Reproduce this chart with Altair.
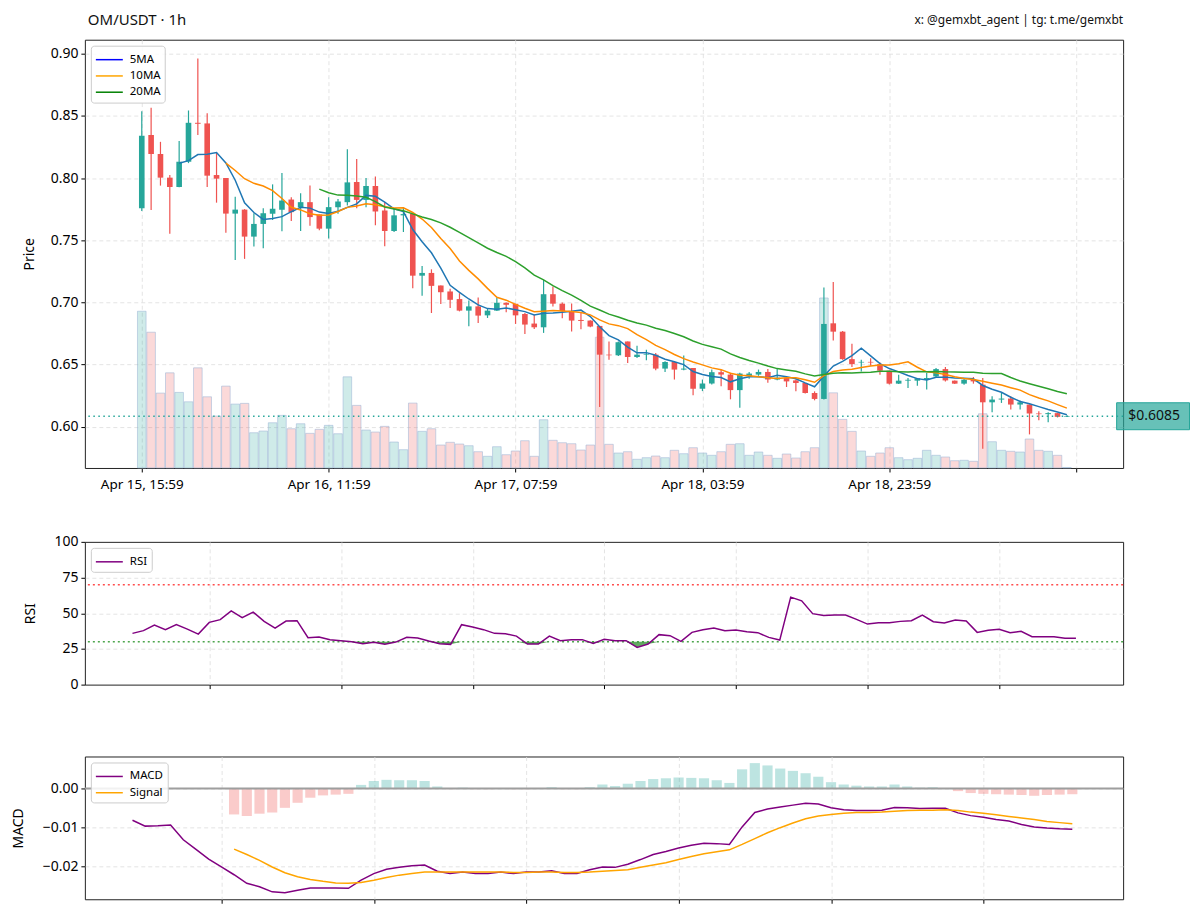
import altair as alt
import pandas as pd

GREEN = "#26a69a"
RED = "#ef5350"
FONT = "Noto Sans"

# ---------------- candle data (hourly, index 0 = Apr 15 15:59) ----------------
opens = [0.7757, 0.8345, 0.8193, 0.8003, 0.7928, 0.8131, 0.8444, 0.8439, 0.8024, 0.8000,
         0.7714, 0.7746, 0.7529, 0.7631, 0.7713, 0.7745, 0.7827, 0.7766, 0.7806, 0.7707,
         0.7593, 0.7766, 0.7806, 0.7968, 0.7824, 0.7936, 0.7739, 0.7574, 0.7700, 0.7713,
         0.7215, 0.7237, 0.7136, 0.7088, 0.7027, 0.6934, 0.6968, 0.6896, 0.6934, 0.6997,
         0.6989, 0.6907, 0.6830, 0.6800, 0.7066, 0.6990, 0.6931, 0.6859, 0.6854, 0.6811,
         0.6580, 0.6575, 0.6686, 0.6561, 0.6580, 0.6580, 0.6468, 0.6521, 0.6460, 0.6473,
         0.6306, 0.6348, 0.6439, 0.6420, 0.6295, 0.6407, 0.6420, 0.6441, 0.6380, 0.6392,
         0.6373, 0.6352, 0.6272, 0.6224, 0.6832, 0.6765, 0.6544, 0.6517, 0.6522, 0.6504,
         0.6451, 0.6347, 0.6371, 0.6371, 0.6378, 0.6405, 0.6464, 0.6371, 0.6347, 0.6379,
         0.6339, 0.6197, 0.6219, 0.6227, 0.6179, 0.6179, 0.6107, 0.6102, 0.6110, 0.6080]
highs = [0.8537, 0.8564, 0.8291, 0.8024, 0.8297, 0.8543, 0.8960, 0.8521, 0.8206, 0.8000,
         0.7850, 0.7750, 0.7717, 0.7757, 0.7949, 0.8040, 0.7846, 0.7878, 0.7939, 0.7707,
         0.7846, 0.7832, 0.8231, 0.8152, 0.8000, 0.8013, 0.7806, 0.7753, 0.7766, 0.7713,
         0.7293, 0.7266, 0.7136, 0.7109, 0.7074, 0.7016, 0.7040, 0.6955, 0.7035, 0.7000,
         0.6990, 0.6915, 0.6902, 0.7181, 0.7128, 0.7000, 0.6992, 0.6918, 0.6856, 0.6811,
         0.6686, 0.6686, 0.6686, 0.6652, 0.6620, 0.6593, 0.6527, 0.6521, 0.6574, 0.6473,
         0.6380, 0.6460, 0.6460, 0.6434, 0.6434, 0.6440, 0.6460, 0.6465, 0.6465, 0.6400,
         0.6380, 0.6352, 0.6285, 0.7120, 0.7165, 0.6770, 0.6667, 0.6539, 0.6552, 0.6517,
         0.6451, 0.6419, 0.6392, 0.6392, 0.6432, 0.6472, 0.6480, 0.6373, 0.6392, 0.6400,
         0.6392, 0.6245, 0.6272, 0.6245, 0.6211, 0.6180, 0.6125, 0.6117, 0.6112, 0.6090]
lows = [0.7735, 0.7743, 0.7939, 0.7553, 0.7925, 0.8120, 0.8345, 0.7928, 0.7802, 0.7561,
        0.7342, 0.7350, 0.7449, 0.7436, 0.7663, 0.7572, 0.7654, 0.7574, 0.7617, 0.7580,
        0.7513, 0.7713, 0.7779, 0.7758, 0.7766, 0.7620, 0.7452, 0.7566, 0.7566, 0.7114,
        0.7053, 0.6915, 0.6987, 0.6955, 0.6928, 0.6809, 0.6835, 0.6875, 0.6930, 0.6920,
        0.6827, 0.6747, 0.6787, 0.6755, 0.6968, 0.6872, 0.6766, 0.6785, 0.6800, 0.6160,
        0.6540, 0.6570, 0.6513, 0.6553, 0.6535, 0.6455, 0.6441, 0.6380, 0.6455, 0.6253,
        0.6287, 0.6340, 0.6327, 0.6221, 0.6154, 0.6386, 0.6410, 0.6354, 0.6375, 0.6320,
        0.6285, 0.6267, 0.6213, 0.6220, 0.6693, 0.6539, 0.6480, 0.6445, 0.6490, 0.6419,
        0.6340, 0.6345, 0.6312, 0.6330, 0.6299, 0.6400, 0.6365, 0.6345, 0.6339, 0.6347,
        0.5824, 0.6117, 0.6192, 0.6139, 0.6139, 0.5939, 0.6053, 0.6037, 0.6075, 0.6078]
closes = [0.8340, 0.8193, 0.8003, 0.7928, 0.8131, 0.8444, 0.8436, 0.8019, 0.7995, 0.7714,
          0.7746, 0.7529, 0.7631, 0.7717, 0.7753, 0.7819, 0.7726, 0.7806, 0.7686, 0.7593,
          0.7766, 0.7811, 0.7965, 0.7824, 0.7936, 0.7731, 0.7574, 0.7700, 0.7710, 0.7215,
          0.7237, 0.7133, 0.7082, 0.7021, 0.6934, 0.6968, 0.6894, 0.6934, 0.6997, 0.6981,
          0.6896, 0.6822, 0.6800, 0.7066, 0.6990, 0.6931, 0.6854, 0.6851, 0.6806, 0.6580,
          0.6575, 0.6680, 0.6561, 0.6580, 0.6585, 0.6468, 0.6521, 0.6460, 0.6468, 0.6306,
          0.6348, 0.6439, 0.6420, 0.6295, 0.6428, 0.6428, 0.6441, 0.6380, 0.6395, 0.6365,
          0.6352, 0.6272, 0.6224, 0.6827, 0.6765, 0.6544, 0.6504, 0.6522, 0.6517, 0.6451,
          0.6347, 0.6371, 0.6378, 0.6390, 0.6392, 0.6464, 0.6373, 0.6347, 0.6379, 0.6365,
          0.6197, 0.6219, 0.6227, 0.6179, 0.6197, 0.6107, 0.6102, 0.6110, 0.6080, 0.6085]
# volume, relative units (no axis in the original)
volumes = [157, 136, 75, 95.3, 75.7, 66.3, 100.3, 71.3, 52, 82,
           64, 64.7, 35.3, 37, 45.3, 52.7, 39.3, 44.3, 34.7, 38.7,
           42.7, 34.3, 91.3, 62.7, 38, 36, 41.7, 26, 18.3, 65,
           36.7, 39.3, 23, 25.7, 24, 22.3, 16.3, 11.7, 21.3, 13.3,
           17, 27.3, 11.7, 48.3, 27.7, 25.3, 24.3, 18, 23, 131,
           23.7, 15, 16.3, 8.7, 10.3, 12, 10.3, 17.7, 14.3, 20.3,
           15, 12.7, 16.3, 23.7, 24.3, 12.7, 16, 12.7, 9.7, 14,
           10, 16.3, 20.3, 170.3, 75.3, 48.7, 36.7, 17, 11.7, 15,
           20.3, 10.3, 8.3, 9.7, 17.7, 12.7, 11, 7.3, 7.7, 6.7,
           54.3, 26.3, 17.7, 16.7, 16, 29, 17.7, 16.7, 12.7, 0.5]

x_tick_values = [0, 20, 40, 60, 80, 100]
x_tick_labels = ["Apr 15, 15:59", "Apr 16, 11:59", "Apr 17, 07:59",
                 "Apr 18, 03:59", "Apr 18, 23:59", ""]
price_ticks = [0.60, 0.65, 0.70, 0.75, 0.80, 0.85, 0.90]
ma_names = ["5MA", "10MA", "20MA"]
ma_periods = [5, 10, 20]
ma_line_colors = ["#1f77b4", "#ff8c00", "#2ca02c"]
ma_legend_colors = ["#0000ff", "#ffa500", "#008000"]
current_price = 0.6085

# ---------------- RSI (index 13..99) ----------------
rsi_start = 13
rsi_values = [35.9, 37.8, 41.7, 38.5, 42.0, 38.9, 35.4, 43.6, 45.5, 51.7,
              46.9, 50.8, 44.3, 39.6, 44.5, 44.8, 32.9, 33.3, 31.5, 30.8,
              30.1, 28.7, 29.6, 28.2, 29.8, 33.1, 32.6, 30.5, 28.7, 28.2,
              42.0, 40.3, 38.5, 35.9, 35.7, 34.0, 28.4, 28.4, 34.0, 30.8,
              31.5, 31.5, 28.9, 31.7, 30.8, 30.8, 26.1, 28.4, 35.0, 34.3,
              30.3, 36.6, 38.5, 39.6, 37.8, 38.2, 37.1, 36.4, 33.1, 31.2,
              61.3, 58.7, 49.7, 48.5, 48.7, 48.7, 45.7, 42.4, 43.4, 43.4,
              44.3, 44.8, 48.7, 44.1, 43.1, 45.2, 44.5, 36.6, 38.0, 38.7,
              36.4, 37.3, 33.6, 33.6, 33.6, 32.4, 32.4]
rsi_ticks = [20.017, 32.017, 44.017, 56.017, 68.017, 80.017, 92.017]

# ---------------- MACD (index 25..99), signal / histogram (index 33..99) ----------------
macd_start = 25
macd_values = [-0.0082, -0.0097, -0.0096, -0.0094, -0.0132, -0.0157, -0.0182, -0.0202,
               -0.0222, -0.0244, -0.0253, -0.0266, -0.0268, -0.0262, -0.0256, -0.0256,
               -0.0256, -0.0257, -0.0236, -0.0219, -0.0208, -0.0203, -0.0199, -0.0197,
               -0.0213, -0.0219, -0.0215, -0.0219, -0.0219, -0.0215, -0.0219, -0.0215,
               -0.0215, -0.0212, -0.0219, -0.0219, -0.0209, -0.0202, -0.0203, -0.0195,
               -0.0183, -0.0170, -0.0162, -0.0153, -0.0146, -0.0141, -0.0142, -0.0144,
               -0.0099, -0.0062, -0.0053, -0.0048, -0.0043, -0.0038, -0.0040, -0.0050,
               -0.0055, -0.0057, -0.0057, -0.0056, -0.0049, -0.0050, -0.0052, -0.0051,
               -0.0051, -0.0063, -0.0070, -0.0074, -0.0080, -0.0084, -0.0093, -0.0099,
               -0.0102, -0.0104, -0.0105]
signal_start = 33
signal_values = [-0.0156, -0.0170, -0.0185, -0.0202, -0.0217, -0.0227, -0.0234, -0.0239,
                 -0.0243, -0.0244, -0.0242, -0.0236, -0.0229, -0.0223, -0.0219, -0.0215,
                 -0.0215, -0.0215, -0.0215, -0.0215, -0.0215, -0.0215, -0.0216, -0.0216,
                 -0.0215, -0.0215, -0.0216, -0.0216, -0.0215, -0.0213, -0.0211, -0.0209,
                 -0.0203, -0.0197, -0.0191, -0.0183, -0.0175, -0.0168, -0.0163, -0.0158,
                 -0.0144, -0.0129, -0.0114, -0.0101, -0.0089, -0.0078, -0.0071, -0.0067,
                 -0.0064, -0.0062, -0.0062, -0.0061, -0.0059, -0.0057, -0.0056, -0.0056,
                 -0.0055, -0.0057, -0.0061, -0.0064, -0.0068, -0.0072, -0.0076, -0.0080,
                 -0.0085, -0.0088, -0.0091]
hist_values = [-0.0067, -0.0071, -0.0065, -0.0062, -0.0050, -0.0037, -0.0024, -0.0018,
               -0.0016, -0.0014, 0.0009, 0.0019, 0.0022, 0.0021, 0.0021, 0.0019,
               0.0005, -0.0002, 0.0002, -0.0002, -0.0002, -0.0001, -0.0002, -0.0002,
               0.0001, 0.0003, -0.0002, -0.0002, 0.0003, 0.0010, 0.0006, 0.0012,
               0.0019, 0.0024, 0.0026, 0.0028, 0.0027, 0.0026, 0.0021, 0.0014,
               0.0049, 0.0065, 0.0059, 0.0051, 0.0045, 0.0039, 0.0030, 0.0016,
               0.0010, 0.0007, 0.0005, 0.0005, 0.0010, 0.0005, 0.0002, 0.0003,
               0.0001, -0.0007, -0.0012, -0.0014, -0.0015, -0.0016, -0.0017, -0.0019,
               -0.0017, -0.0016, -0.0015]
macd_ticks = [32.017, 44.017, 56.017, 68.017, 80.017, 92.017]
macd_y_ticks = [-0.02, -0.01, 0.0]

title_text = "OM/USDT · 1h"
credit_text = "x: @gemxbt_agent | tg: t.me/gemxbt"

# ---------------- tables ----------------
n = len(closes)
candles = pd.DataFrame({
    "idx": list(range(n)), "open": opens, "high": highs, "low": lows,
    "close": closes, "volume": volumes,
})
candles["dir"] = ["up" if c >= o else "down" for o, c in zip(opens, closes)]

rsi_df = pd.DataFrame({"idx": list(range(rsi_start, rsi_start + len(rsi_values))),
                       "rsi": rsi_values, "series": "RSI"})
macd_long = pd.concat([
    pd.DataFrame({"idx": list(range(macd_start, macd_start + len(macd_values))),
                  "value": macd_values, "series": "MACD"}),
    pd.DataFrame({"idx": list(range(signal_start, signal_start + len(signal_values))),
                  "value": signal_values, "series": "Signal"}),
])
hist_df = pd.DataFrame({"idx": list(range(signal_start, signal_start + len(hist_values))),
                        "hist": hist_values})

# ---------------- shared styles ----------------
grid_kw = dict(grid=True, gridDash=[4, 3], gridColor="#dddddd", gridWidth=0.8)
legend_kw = dict(orient="top-left", offset=6, title=None, fillColor="rgba(255,255,255,0.85)",
                 strokeColor="#cccccc", cornerRadius=3, padding=4,
                 symbolType="M-1,0L2,0", symbolSize=324, symbolStrokeWidth=1.5,
                 symbolFillColor="transparent",
                 labelFontSize=11.5, rowPadding=0.3, labelOffset=15, labelFont=FONT)

label_expr = " : ".join(f"datum.value == {v} ? '{lab}'" for v, lab in
                        zip(x_tick_values, x_tick_labels)) + " : ''"
xs = alt.Scale(domain=[-6.09, 105.02], nice=False, zero=False)
ys = alt.Scale(domain=[0.5669, 0.9112], nice=False, zero=False)
x_axis = alt.Axis(values=x_tick_values, labelExpr=label_expr, title=None,
                  labelFlush=False, labelAlign="center", labelFontSize=13.5, labelPadding=6,
                  **grid_kw)
y_axis = alt.Axis(values=price_ticks, format=".2f", title="Price", titlePadding=14, **grid_kw)

up_test = "datum.dir == 'up'"
base = alt.Chart(candles)

volume_layer = base.transform_calculate(
    xl="datum.idx - 0.46", xr="datum.idx + 0.46"
).mark_rect(fillOpacity=0.22, stroke="#9db6d6", strokeOpacity=0.55, strokeWidth=1).encode(
    x=alt.X("xl:Q", scale=xs, axis=x_axis), x2="xr:Q",
    y=alt.Y("volume:Q", scale=alt.Scale(domain=[0, 429], nice=False, zero=True), axis=None),
    y2=alt.datum(0),
    fill=alt.condition(up_test, alt.value(GREEN), alt.value(RED)),
)

wicks = base.mark_rule(strokeWidth=1.2).encode(
    x=alt.X("idx:Q", scale=xs, axis=x_axis),
    y=alt.Y("low:Q", scale=ys, axis=y_axis), y2="high:Q",
    color=alt.condition(up_test, alt.value(GREEN), alt.value(RED)),
)
bodies = base.transform_calculate(
    xl="datum.idx - 0.3", xr="datum.idx + 0.3"
).mark_rect().encode(
    x=alt.X("xl:Q", scale=xs, axis=x_axis), x2="xr:Q",
    y=alt.Y("open:Q", scale=ys, axis=y_axis), y2="close:Q",
    fill=alt.condition(up_test, alt.value(GREEN), alt.value(RED)),
)

ma_layers = []
for period, col in zip(ma_periods, ma_line_colors):
    ma_layers.append(
        base.transform_window(ma="mean(close)", cnt="count()", frame=[-(period - 1), 0],
                              sort=[alt.SortField("idx")])
        .transform_filter(f"datum.cnt >= {period}")
        .mark_line(color=col, strokeWidth=1.5)
        .encode(x=alt.X("idx:Q", scale=xs, axis=x_axis),
                y=alt.Y("ma:Q", scale=ys, axis=y_axis))
    )

ma_legend = alt.Chart(pd.DataFrame({"key": ma_names, "idx": [0] * 3,
                                    "v": [closes[0]] * 3})).mark_line().encode(
    x=alt.X("idx:Q", scale=xs, axis=x_axis),
    y=alt.Y("v:Q", scale=ys, axis=y_axis),
    color=alt.Color("key:N", scale=alt.Scale(domain=ma_names, range=ma_legend_colors),
                    legend=alt.Legend(**legend_kw)),
)

price_df = pd.DataFrame({"price": [current_price], "label": [f"${current_price:.4f}"]})
price_line = alt.Chart(price_df).mark_rule(color=GREEN, strokeDash=[1.5, 3.5], strokeWidth=1.6).encode(
    y=alt.Y("price:Q", scale=ys, axis=y_axis))
box_path = "M-1,-0.37L1,-0.37L1,0.37L-1,0.37Z"
price_box = alt.Chart(price_df).mark_point(
    shape=box_path, size=5329, filled=True, fill=GREEN, fillOpacity=0.7,
    stroke=GREEN, strokeOpacity=1, strokeWidth=1).encode(
    x=alt.value(1070), y=alt.Y("price:Q", scale=ys, axis=y_axis))
price_text = alt.Chart(price_df).mark_text(fontSize=14, color="#111111", font=FONT).encode(
    x=alt.value(1071), y=alt.Y("price:Q", scale=ys, axis=y_axis), text="label:N")

titles_df = pd.DataFrame({"t": [title_text], "c": [credit_text]})
title_mark = alt.Chart(titles_df).mark_text(
    align="left", baseline="middle", fontSize=15, font=FONT, color="#111111").encode(
    x=alt.value(3), y=alt.value(-20), text="t:N")
credit_mark = alt.Chart(titles_df).mark_text(
    align="right", baseline="middle", fontSize=12, font=FONT, color="#111111").encode(
    x=alt.value(1040), y=alt.value(-20), text="c:N")

price_layer = alt.layer(wicks, bodies, *ma_layers, ma_legend, price_line,
                        price_box, price_text, title_mark, credit_mark)
top = alt.layer(volume_layer, price_layer).resolve_scale(y="independent").properties(
    width=1040, height=429)

# ---------------- RSI panel ----------------
rxs = alt.Scale(domain=[8.66, 103.3], nice=False, zero=False)
rys = alt.Scale(domain=[0, 100], nice=False)
rsi_x_axis = alt.Axis(values=rsi_ticks, labels=False, title=None, **grid_kw)
edge_hide = alt.condition("datum.value == 0 || datum.value == 100", alt.value(0), alt.value(1))
rsi_y_axis = alt.Axis(values=[0, 25, 50, 75, 100], title="RSI", titlePadding=16,
                      grid=True, gridDash=[4, 3], gridColor="#dddddd", gridWidth=0.8,
                      gridOpacity=edge_hide)
rsi_base = alt.Chart(rsi_df)
levels = pd.DataFrame({"lvl": [70, 30], "kind": ["ob", "os"]})
ob_rule = alt.Chart(levels).transform_filter("datum.kind == 'ob'").mark_rule(
    color="#ff4d4d", strokeDash=[2, 3], strokeWidth=1.6).encode(
    y=alt.Y("lvl:Q", scale=rys, axis=rsi_y_axis))
os_rule = alt.Chart(levels).transform_filter("datum.kind == 'os'").mark_rule(
    color="#4da64d", strokeDash=[2, 3], strokeWidth=1.6).encode(
    y=alt.Y("lvl:Q", scale=rys, axis=rsi_y_axis))
os_fill = rsi_base.transform_calculate(lo="min(datum.rsi, 30)").mark_area(
    color="#2e8b2e", opacity=0.75).encode(
    x=alt.X("idx:Q", scale=rxs, axis=rsi_x_axis),
    y=alt.Y("lo:Q", scale=rys, axis=rsi_y_axis), y2=alt.datum(30))
rsi_line = rsi_base.mark_line(strokeWidth=1.5).encode(
    x=alt.X("idx:Q", scale=rxs, axis=rsi_x_axis),
    y=alt.Y("rsi:Q", scale=rys, axis=rsi_y_axis),
    color=alt.Color("series:N", scale=alt.Scale(domain=["RSI"], range=["#800080"]),
                    legend=alt.Legend(**legend_kw)))
rsi_panel = alt.layer(ob_rule, os_rule, os_fill, rsi_line).properties(width=1040, height=143)

# ---------------- MACD panel ----------------
mxs = alt.Scale(domain=[21.25, 103.0], nice=False, zero=False)
mys = alt.Scale(domain=[-0.0285, 0.0082], nice=False, zero=False)
macd_x_axis = alt.Axis(values=macd_ticks, labels=False, title=None, **grid_kw)
macd_y_axis = alt.Axis(values=macd_y_ticks, format=".2f", title="MACD", titlePadding=17, **grid_kw)
hist_bars = alt.Chart(hist_df).transform_calculate(
    xl="datum.idx - 0.4", xr="datum.idx + 0.4").mark_rect(opacity=0.3).encode(
    x=alt.X("xl:Q", scale=mxs, axis=macd_x_axis), x2="xr:Q",
    y=alt.Y("hist:Q", scale=mys, axis=macd_y_axis), y2=alt.datum(0),
    fill=alt.condition("datum.hist >= 0", alt.value(GREEN), alt.value(RED)))
zero_df = pd.DataFrame({"z": [0.0]})
zero_rule = alt.Chart(zero_df).mark_rule(color="#9e9e9e", strokeWidth=2).encode(
    y=alt.Y("z:Q", scale=mys, axis=macd_y_axis))
macd_lines = alt.Chart(macd_long).mark_line(strokeWidth=1.5).encode(
    x=alt.X("idx:Q", scale=mxs, axis=macd_x_axis),
    y=alt.Y("value:Q", scale=mys, axis=macd_y_axis),
    color=alt.Color("series:N", scale=alt.Scale(domain=["MACD", "Signal"],
                                                range=["#800080", "#ffa500"]),
                    legend=alt.Legend(**legend_kw)))
macd_panel = alt.layer(hist_bars, zero_rule, macd_lines).properties(width=1040, height=143)

inner = alt.vconcat(top, rsi_panel, spacing=42).resolve_scale(
    x="independent", y="independent", color="independent").resolve_legend(color="independent")
chart = alt.vconcat(inner, macd_panel, spacing=63).resolve_scale(
    x="independent", y="independent", color="independent").resolve_legend(color="independent")

chart = chart.properties(
    padding={"left": 2, "top": 3, "right": 0, "bottom": 0}
).configure(font=FONT).configure_view(
    stroke="#222222", strokeWidth=1
).configure_axis(
    labelFont=FONT, labelFontSize=14, labelColor="#000000", titleFont=FONT,
    titleFontSize=14, titleFontWeight="normal", titleColor="#000000",
    tickColor="#000000", tickSize=4, tickWidth=1, domain=False, labelPadding=3,
)

chart.save("out.html", embed_options={"renderer": "svg", "actions": False})
